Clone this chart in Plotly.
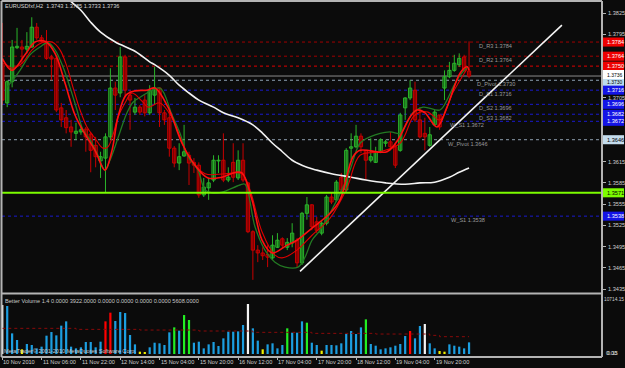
import plotly.graph_objects as go

W, H = 625, 368
BG = "#0b0b0b"
FONT = "Liberation Sans"
FS = 5.6

# ---------------- data ----------------
opens = [1.3754, 1.3698, 1.3728, 1.3776, 1.3777, 1.3774, 1.3777, 1.3805, 1.3790, 1.3784,
         1.3763, 1.3761, 1.3691, 1.3677, 1.3664, 1.3655, 1.3657, 1.3661, 1.3654, 1.3638,
         1.3616, 1.3620, 1.3650, 1.3719, 1.3712, 1.3763, 1.3709, 1.3685, 1.3692, 1.3702,
         1.3684, 1.3709, 1.3719, 1.3684, 1.3677, 1.3634, 1.3613, 1.3623, 1.3624, 1.3614,
         1.3610, 1.3568, 1.3578, 1.3589, 1.3616, 1.3617, 1.3589, 1.3614, 1.3592, 1.3617,
         1.3585, 1.3516, 1.3490, 1.3486, 1.3484, 1.3479, 1.3494, 1.3506, 1.3494, 1.3500,
         1.3504, 1.3472, 1.3542, 1.3554, 1.3530, 1.3514, 1.3528, 1.3565, 1.3561, 1.3593,
         1.3575, 1.3634, 1.3636, 1.3651, 1.3631, 1.3617, 1.3614, 1.3629, 1.3641, 1.3643,
         1.3636, 1.3631, 1.3691, 1.3705, 1.3716, 1.3674, 1.3655, 1.3638, 1.3667, 1.3681,
         1.3719, 1.3735, 1.3744, 1.3752, 1.3763, 1.3743]
highs = [1.3811, 1.3730, 1.3787, 1.3804, 1.3787, 1.3798, 1.3819, 1.3811, 1.3794, 1.3801,
         1.3766, 1.3764, 1.3698, 1.3688, 1.3674, 1.3670, 1.3665, 1.3664, 1.3657, 1.3650,
         1.3629, 1.3655, 1.3747, 1.3728, 1.3777, 1.3766, 1.3716, 1.3705, 1.3695, 1.3709,
         1.3723, 1.3749, 1.3720, 1.3688, 1.3688, 1.3637, 1.3641, 1.3667, 1.3629, 1.3620,
         1.3614, 1.3592, 1.3592, 1.3624, 1.3624, 1.3655, 1.3607, 1.3641, 1.3631, 1.3641,
         1.3586, 1.3518, 1.3497, 1.3494, 1.3497, 1.3511, 1.3514, 1.3508, 1.3507, 1.3528,
         1.3507, 1.3544, 1.3565, 1.3555, 1.3537, 1.3531, 1.3568, 1.3571, 1.3589, 1.3599,
         1.3634, 1.3655, 1.3667, 1.3655, 1.3631, 1.3648, 1.3636, 1.3648, 1.3646, 1.3657,
         1.3641, 1.3684, 1.3706, 1.3730, 1.3728, 1.3692, 1.3677, 1.3664, 1.3688, 1.3681,
         1.3744, 1.3756, 1.3766, 1.3768, 1.3766, 1.3785]
lows = [1.3695, 1.3692, 1.3720, 1.3774, 1.3754, 1.3768, 1.3776, 1.3787, 1.3783, 1.3759,
        1.3730, 1.3685, 1.3664, 1.3655, 1.3636, 1.3646, 1.3653, 1.3629, 1.3600, 1.3607,
        1.3592, 1.3571, 1.3646, 1.3688, 1.3706, 1.3706, 1.3660, 1.3681, 1.3681, 1.3679,
        1.3681, 1.3695, 1.3664, 1.3667, 1.3622, 1.3607, 1.3603, 1.3622, 1.3582, 1.3599,
        1.3564, 1.3565, 1.3561, 1.3586, 1.3599, 1.3586, 1.3586, 1.3586, 1.3589, 1.3586,
        1.3514, 1.3448, 1.3473, 1.3476, 1.3466, 1.3476, 1.3493, 1.3493, 1.3490, 1.3494,
        1.3466, 1.3469, 1.3533, 1.3518, 1.3514, 1.3511, 1.3525, 1.3555, 1.3558, 1.3571,
        1.3572, 1.3617, 1.3634, 1.3627, 1.3589, 1.3614, 1.3613, 1.3627, 1.3636, 1.3631,
        1.3606, 1.3629, 1.3674, 1.3702, 1.3671, 1.3648, 1.3631, 1.3636, 1.3667, 1.3660,
        1.3702, 1.3733, 1.3742, 1.3749, 1.3742, 1.3733]
closes = [1.3702, 1.3728, 1.3777, 1.3778, 1.3774, 1.3778, 1.3805, 1.3790, 1.3785, 1.3761,
          1.3760, 1.3688, 1.3674, 1.3663, 1.3657, 1.3658, 1.3660, 1.3650, 1.3631, 1.3622,
          1.3622, 1.3650, 1.3719, 1.3709, 1.3763, 1.3716, 1.3702, 1.3692, 1.3685, 1.3684,
          1.3716, 1.3719, 1.3684, 1.3674, 1.3634, 1.3613, 1.3622, 1.3629, 1.3613, 1.3610,
          1.3568, 1.3579, 1.3585, 1.3617, 1.3617, 1.3589, 1.3593, 1.3593, 1.3617, 1.3589,
          1.3516, 1.3490, 1.3486, 1.3482, 1.3480, 1.3497, 1.3504, 1.3497, 1.3501, 1.3514,
          1.3472, 1.3542, 1.3554, 1.3523, 1.3518, 1.3528, 1.3565, 1.3558, 1.3586, 1.3575,
          1.3631, 1.3636, 1.3651, 1.3636, 1.3617, 1.3622, 1.3629, 1.3646, 1.3643, 1.3636,
          1.3610, 1.3681, 1.3705, 1.3719, 1.3674, 1.3650, 1.3650, 1.3653, 1.3685, 1.3664,
          1.3735, 1.3744, 1.3754, 1.3761, 1.3744, 1.3736]

volumes = [9540, 9350, 4020, 2730, 910, 1950, 1750, 1100, 1430, 3570,
           4280, 3630, 5520, 6360, 1430, 1100, 1300, 2340, 2340, 1300,
           2400, 6360, 8050, 6430, 8180, 7980, 3700, 1880, 450, 390,
           1300, 2200, 2080, 1750, 4220, 5190, 4540, 7590, 6620, 2200,
           2400, 1100, 1880, 2340, 1560, 3050, 4350, 4350, 4410, 5650,
           9740, 5000, 2600, 910, 1880, 2080, 1100, 1750, 5000, 4150,
           4150, 6360, 6100, 2200, 1750, 650, 1750, 1750, 1690, 2080,
           3890, 4480, 3890, 5190, 6750, 1950, 1620, 910, 1100, 1300,
           1620, 1950, 3500, 4480, 3050, 5450, 5840, 2080, 1100, 580,
           450, 1880, 1620, 1430, 1100, 2270]
# Better Volume bar classes: C=normal, Y=low, R=climax up, G=churn, W=climax
vol_class = ("WCCCYCCCCC" "CCCCCCCCCC" "CRRCCCCCYY" "CCCCCGCGGC" "CCCCCCCCCC"
             "WCCYCCCCGC" "CCGCCYCCCC" "CCCCGCCCCC" "CCCRCCWCCY" "YCCCCC")
avg_vol_x = [0, 15, 28, 40, 51, 63, 76, 87, 89, 95]
avg_vol_v = [5000, 4800, 4670, 4480, 4220, 4020, 3890, 3630, 3370, 3370]

# moving averages (bar index, price)
ma_red_x = [0, 1.97, 4.62, 6.66, 8.69, 10.73, 12.76, 14.8, 16.83, 18.87, 20.9, 22.33, 23.55,
            25.18, 27.01, 29.45, 31.08, 33.73, 36.58, 39.22, 41.87, 44.72, 47.57, 48.79,
            50.82, 52.86, 54.9, 57.95, 59.98, 63.04, 66.7, 68.74, 71.38, 72.81, 78.3,
            80.54, 82.98, 84.41, 86.04, 88.48, 90.51, 93.16, 94.59, 95]
ma_red_y = [1.3761, 1.3744, 1.3766, 1.3784, 1.3785, 1.3768, 1.3726, 1.3681, 1.3654, 1.3631,
            1.3603, 1.3631, 1.3678, 1.3709, 1.3715, 1.3716, 1.3719, 1.3692, 1.3641, 1.3610,
            1.3592, 1.3593, 1.3600, 1.3599, 1.3561, 1.3504, 1.3486, 1.3497, 1.3504, 1.3521,
            1.3542, 1.3561, 1.3622, 1.3631, 1.3629, 1.3646, 1.3678, 1.3688, 1.3684, 1.3664,
            1.3692, 1.3740, 1.3749, 1.3744]
ma_red2_x = [0, 1.97, 4.01, 6.05, 8.08, 10.12, 11.74, 13.17, 14.39, 15.82, 17.24, 18.87, 20.5,
             21.51, 22.53, 23.55, 24.97, 26.4, 28.64, 29.66, 32.1, 34.54, 37.8, 41.26, 45.33,
             48.79, 50.42, 52.86, 55.5, 56.93, 59.98, 63.04, 66.7, 70.16, 72.81, 76.88,
             80.95, 83.59, 85.02, 86.65, 89.09, 91.74, 94.59]
ma_red2_y = [1.3759, 1.3747, 1.3754, 1.3773, 1.3783, 1.3784, 1.3773, 1.3749, 1.3720, 1.3688,
             1.3664, 1.3648, 1.3634, 1.3636, 1.3653, 1.3678, 1.3698, 1.3712, 1.3699, 1.3692,
             1.3698, 1.3677, 1.3624, 1.3598, 1.3598, 1.3598, 1.3575, 1.3516, 1.3483, 1.3479,
             1.3490, 1.3511, 1.3535, 1.3578, 1.3624, 1.3629, 1.3641, 1.3678, 1.3685, 1.3685,
             1.3674, 1.3713, 1.3746]
ma_green_x = [0.96, 3.6, 5.64, 7.67, 9.3, 10.73, 12.35, 13.78, 15.2, 16.43, 17.85, 19.27,
              20.9, 21.92, 22.94, 23.96, 25.38, 26.6, 28.03, 29.45, 32.1, 34.54, 36.17, 37.8,
              39.83, 41.26, 42.68, 44.72, 48.38, 49.4, 51.43, 53.47, 55.5, 57.54, 60.19,
              61.61, 63.04, 64.67, 66.7, 69.35, 70.77, 72.81, 74.84, 78.91, 80.95, 82.37,
              83.59, 85.63, 89.09, 90.51, 91.74, 93.16, 94.79]
ma_green_y = [1.3720, 1.3744, 1.3766, 1.3777, 1.3783, 1.3773, 1.3749, 1.3720, 1.3688, 1.3660,
              1.3646, 1.3627, 1.3603, 1.3617, 1.3636, 1.3657, 1.3684, 1.3699, 1.3706, 1.3712,
              1.3719, 1.3681, 1.3655, 1.3622, 1.3603, 1.3575, 1.3571, 1.3572, 1.3582, 1.3583,
              1.3523, 1.3490, 1.3473, 1.3466, 1.3466, 1.3480, 1.3504, 1.3518, 1.3542, 1.3579,
              1.3603, 1.3641, 1.3650, 1.3657, 1.3655, 1.3670, 1.3684, 1.3692, 1.3688, 1.3702,
              1.3720, 1.3737, 1.3749]
ma_white_x = [11, 14, 16, 18, 20, 23, 27, 30, 31, 34, 36, 38, 40, 43, 45, 48, 51, 53, 55, 57,
              59, 60, 62, 64, 67, 71, 74, 78, 82, 85, 88, 91, 93, 95]
ma_white_y = [1.3860, 1.3841, 1.3829, 1.3812, 1.3798, 1.3784, 1.3771, 1.3756, 1.3752, 1.3737,
              1.3723, 1.3712, 1.3702, 1.3692, 1.3684, 1.3677, 1.3667, 1.3655, 1.3641, 1.3629,
              1.3617, 1.3613, 1.3607, 1.3603, 1.3598, 1.3593, 1.3589, 1.3585, 1.3583, 1.3585,
              1.3586, 1.3593, 1.3600, 1.3606]
trend_x = [60.6, 113.9]
trend_y = [1.3460, 1.3808]

# pivot levels: (price, label, line colour, dash)
levels = [
    (1.3784, "D_R3 1.3784", "#a00000", "dot"),
    (1.3764, "D_R2 1.3764", "#a00000", "dot"),
    (1.3750, "", "#e00000", "dot"),
    (1.3730, "D_Pivot 1.3730", "#8fa3b5", "dot"),
    (1.3716, "D_S1 1.3716", "#1a1ad0", "dot"),
    (1.3696, "D_S2 1.3696", "#1a1ad0", "dot"),
    (1.3682, "D_S3 1.3682", "#1a1ad0", "dot"),
    (1.3672, "W_S1 1.3672", "#1a1ad0", "dot"),
    (1.3646, "W_Pivot 1.3646", "#8f9faf", "dot"),
    (1.3538, "W_S1 1.3538", "#1a1ad0", "dot"),
]
level_label_px = [477, 477, 0, 475, 477, 477, 477, 448, 446, 449]
bid_price = 1.3736
support_line = 1.3571

plain_ticks = [1.3825, 1.3795, 1.3705, 1.3615, 1.3585, 1.3555, 1.3525, 1.3495, 1.3465, 1.3435]
# (price, box colour, text colour, vertical nudge of the box in px, + = up)
price_boxes = [
    (1.3784, "#ee0000", "#ffffff", 0), (1.3764, "#ee0000", "#ffffff", 0),
    (1.3750, "#ee0000", "#ffffff", 0),
    (1.3730, "#bcdcef", "#000000", -1.5), (1.3736, "#ffffff", "#000000", 1.5),
    (1.3716, "#1414e6", "#ffffff", 0), (1.3696, "#1414e6", "#ffffff", 0),
    (1.3682, "#1414e6", "#ffffff", 0), (1.3672, "#1414e6", "#ffffff", 0),
    (1.3646, "#c4dcec", "#000000", 0), (1.3571, "#7cfc00", "#000000", 0),
    (1.3538, "#1414e6", "#ffffff", 0),
]
time_idx = [0, 8, 16, 24, 32, 40, 48, 56, 64, 72, 80, 88]
time_labels = ["10 Nov 2010", "11 Nov 06:00", "11 Nov 22:00", "12 Nov 14:00", "15 Nov 04:00",
               "15 Nov 20:00", "16 Nov 12:00", "17 Nov 04:00", "17 Nov 20:00", "18 Nov 12:00",
               "19 Nov 04:00", "19 Nov 20:00"]

# ---------------- geometry helpers (layout only) ----------------
def px_x(p):
    return p / W

def px_y(p):
    return (H - p) / H

x_range = [-0.06, 122.06]
y_range = [1.34294, 1.38420]
v_range = [-390, 11493]
price_per_px = (y_range[1] - y_range[0]) / 292.0

UP_LINE, UP_FILL = "#2bb52b", "#124a12"
DN_LINE, DN_FILL = "#c80000", "#560000"
GRAY = "#b4b4b4"

fig = go.Figure()

n = len(opens)
idx = list(range(n))
is_up = [closes[i] >= opens[i] for i in idx]

# wicks
for flag, col in ((True, UP_LINE), (False, DN_LINE)):
    xs, ys = [], []
    for i in idx:
        if is_up[i] == flag:
            xs += [i, i, None]
            ys += [lows[i], highs[i], None]
    fig.add_trace(go.Scatter(x=xs, y=ys, mode="lines", line=dict(color=col, width=1),
                             hoverinfo="skip"))
# bodies
for flag, lc, fc in ((True, UP_LINE, UP_FILL), (False, DN_LINE, DN_FILL)):
    sel = [i for i in idx if is_up[i] == flag]
    fig.add_trace(go.Bar(
        x=sel,
        base=[min(opens[i], closes[i]) for i in sel],
        y=[max(abs(closes[i] - opens[i]), 0.00006) for i in sel],
        width=0.66, marker=dict(color=fc, line=dict(color=lc, width=1)),
        hoverinfo="skip"))

# moving averages
fig.add_trace(go.Scatter(x=ma_white_x, y=ma_white_y, mode="lines", line_shape="spline",
                         line=dict(color="#f2f2f2", width=1.6)))
fig.add_trace(go.Scatter(x=ma_green_x, y=ma_green_y, mode="lines", line_shape="spline",
                         line=dict(color="#237a23", width=1.3)))
fig.add_trace(go.Scatter(x=ma_red2_x, y=ma_red2_y, mode="lines", line_shape="spline",
                         line=dict(color="#e00000", width=1.1)))
fig.add_trace(go.Scatter(x=ma_red_x, y=ma_red_y, mode="lines", line_shape="spline",
                         line=dict(color="#ff1010", width=1.6)))
fig.add_trace(go.Scatter(x=trend_x, y=trend_y, mode="lines",
                         line=dict(color="#f4f4f4", width=1.6)))

# volume
vcol = {"C": "#1c9ee0", "Y": "#f0f000", "R": "#ff0000", "G": "#22ee22", "W": "#f4f4f4"}
fig.add_trace(go.Bar(x=idx, y=volumes, width=0.45, marker=dict(color=[vcol[c] for c in vol_class],
                     line=dict(width=0)), xaxis="x2", yaxis="y2", hoverinfo="skip"))
fig.add_trace(go.Scatter(x=avg_vol_x, y=avg_vol_v, mode="lines", line_shape="hv",
                         line=dict(color="#8a0a0a", width=1, dash="dot"), xaxis="x2", yaxis="y2"))

shapes = []
ann = []

# levels
for (p, lab, col, dash), lx in zip(levels, level_label_px):
    shapes.append(dict(type="line", xref="paper", yref="y", x0=px_x(2), x1=px_x(602), y0=p, y1=p,
                       line=dict(color=col, width=1, dash=dash), layer="below"))
    if lab:
        ann.append(dict(x=px_x(lx), y=p, xref="paper", yref="y", text=lab, showarrow=False,
                        xanchor="left", yanchor="top", yshift=1,
                        font=dict(family=FONT, size=FS, color="#9a9a9a")))
shapes.append(dict(type="line", xref="paper", yref="y", x0=px_x(2), x1=px_x(602), y0=bid_price,
                   y1=bid_price, line=dict(color="#8c8c8c", width=1), layer="below"))
shapes.append(dict(type="line", xref="paper", yref="y", x0=px_x(2), x1=px_x(602), y0=support_line,
                   y1=support_line, line=dict(color="#7cfc00", width=2), layer="above"))

# frame
for (x0, y0, x1, y1, w) in [(1.5, 1, 602, 1, 2), (1.5, 1, 1.5, 357, 2), (602, 1, 602, 357, 2),
                           (1.5, 293.5, 602, 293.5, 2), (1.5, 357, 602, 357, 2)]:
    shapes.append(dict(type="line", xref="paper", yref="paper", x0=px_x(x0), x1=px_x(x1),
                       y0=px_y(y0), y1=px_y(y1), line=dict(color=GRAY, width=w)))

# right price scale
for p in plain_ticks:
    ann.append(dict(x=px_x(606), y=p, xref="paper", yref="y", text=f"{p:.4f}", showarrow=False,
                    xanchor="left", yanchor="middle", font=dict(family=FONT, size=FS, color="#d0d0d0")))
half = 0.00064
for p, bg, fg, nudge in price_boxes:
    c = p + nudge * price_per_px
    shapes.append(dict(type="rect", xref="paper", yref="y", x0=px_x(603), x1=px_x(624),
                       y0=c - half, y1=c + half, fillcolor=bg, line=dict(width=0)))
    ann.append(dict(x=px_x(606), y=c, xref="paper", yref="y", text=f"{p:.4f}", showarrow=False,
                    xanchor="left", yanchor="middle", borderpad=0,
                    font=dict(family=FONT, size=FS if nudge == 0 else 5.0, color=fg)))

# volume scale labels
ann.append(dict(x=px_x(602.5), y=px_y(299), xref="paper", yref="paper", text="10714.15",
                showarrow=False, xanchor="left", yanchor="middle", borderpad=0,
                font=dict(family=FONT, size=4.8, color="#d0d0d0")))
for t, dx in (("0.00", 0), ("0.15", 1)):
    ann.append(dict(x=px_x(604 + dx), y=px_y(353), xref="paper", yref="paper", text=t,
                    showarrow=False, xanchor="left", yanchor="middle",
                    font=dict(family=FONT, size=FS, color="#d0d0d0")))

# texts
ann.append(dict(x=px_x(3), y=px_y(6), xref="paper", yref="paper",
                text="EURUSDfxf,H2  1.3743 1.3785 1.3733 1.3736", showarrow=False,
                xanchor="left", yanchor="middle", font=dict(family=FONT, size=FS, color="#d8d8d8")))
ann.append(dict(x=px_x(3), y=px_y(301), xref="paper", yref="paper",
                text="Better Volume 1.4 0.0000 3922.0000 0.0000 0.0000 0.0000 0.0000 5608.0000",
                showarrow=False, xanchor="left", yanchor="middle",
                font=dict(family=FONT, size=FS, color="#c8c8c8")))
ann.append(dict(x=px_x(2), y=px_y(351), xref="paper", yref="paper",
                text="MetaTrader\u00a9 2001-2010 MetaQuotes Software Corp.", showarrow=False,
                xanchor="left", yanchor="middle", font=dict(family=FONT, size=FS, color="#c8c8c8")))
for i, t in zip(time_idx, time_labels):
    ann.append(dict(x=i, y=px_y(362), xref="x2", yref="paper", text=t, showarrow=False,
                    xanchor="left", yanchor="middle", xshift=-1,
                    font=dict(family=FONT, size=FS, color="#d0d0d0")))

fig.update_layout(
    width=W, height=H, margin=dict(l=0, r=0, t=0, b=0),
    paper_bgcolor=BG, plot_bgcolor=BG, showlegend=False, barmode="overlay",
    hovermode=False, shapes=shapes, annotations=ann,
    xaxis=dict(domain=[px_x(2), px_x(602)], range=x_range, visible=False, anchor="y"),
    yaxis=dict(domain=[px_y(293), px_y(1)], range=y_range, side="right", showgrid=False,
               zeroline=False, showticklabels=False, ticks="outside", ticklen=3,
               tickcolor=GRAY, tickvals=plain_ticks, showline=False, anchor="x"),
    xaxis2=dict(domain=[px_x(2), px_x(602)], range=x_range, anchor="y2", showgrid=False,
                zeroline=False, showticklabels=False, ticks="outside", ticklen=3,
                tickcolor=GRAY, tickvals=time_idx, showline=False),
    yaxis2=dict(domain=[px_y(356), px_y(295)], range=v_range, visible=False, anchor="x2"),
)

fig.write_html("out.html")
